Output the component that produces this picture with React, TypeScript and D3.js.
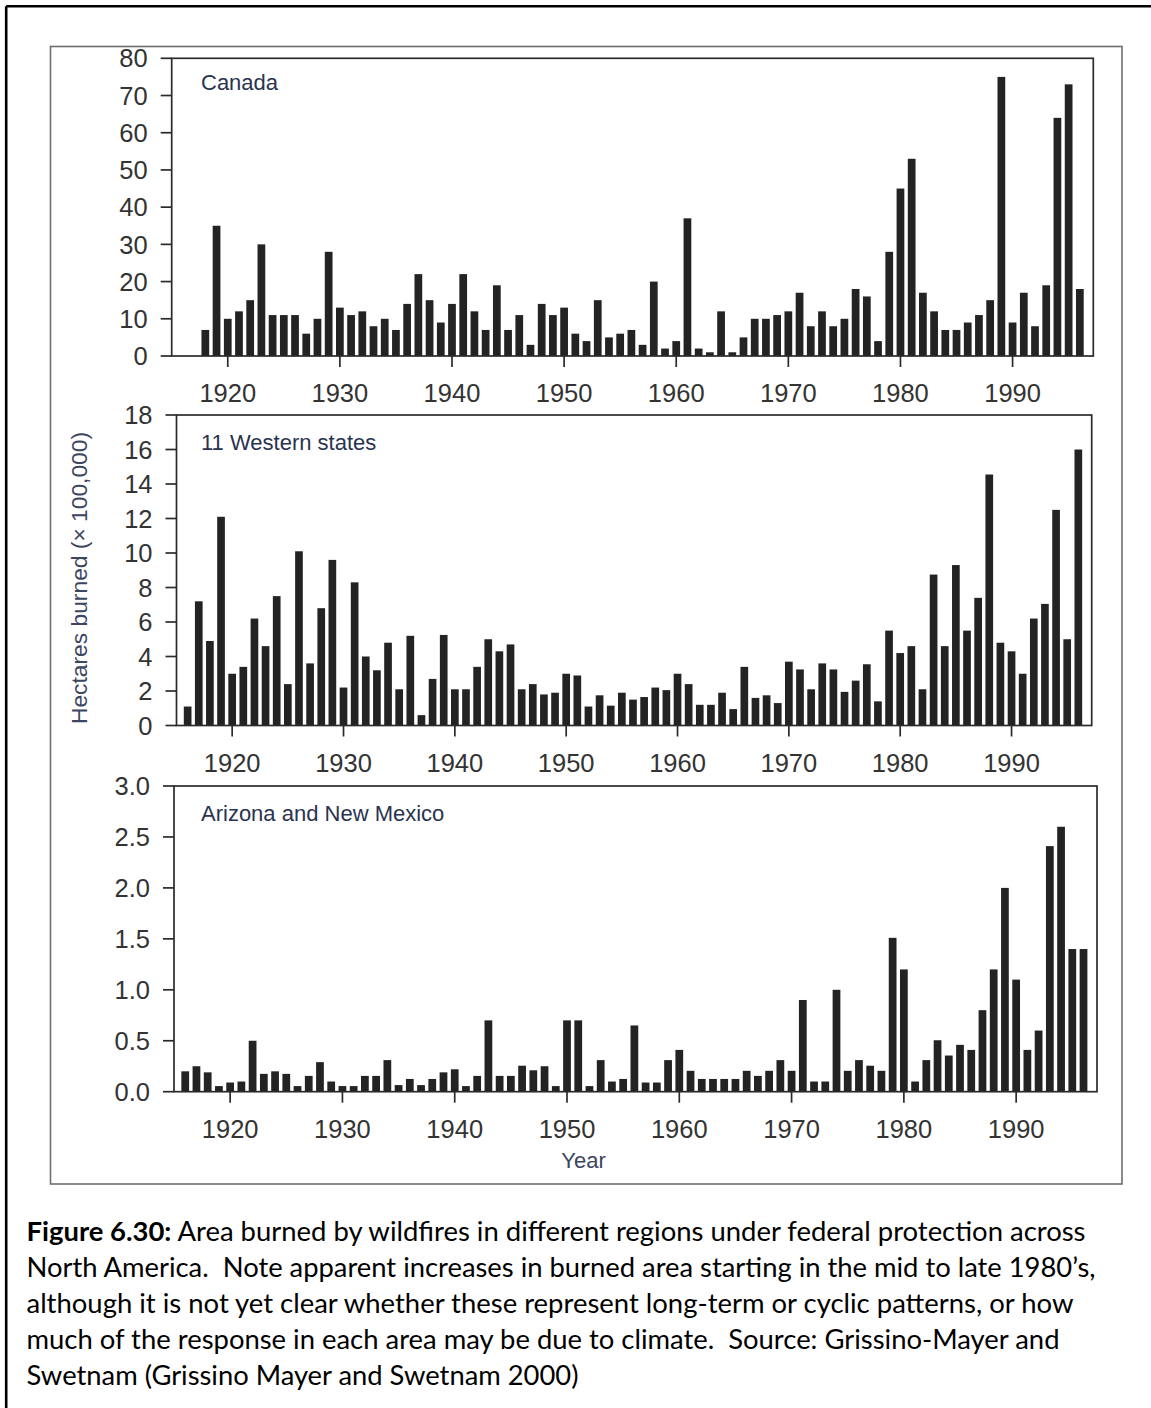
import React from "react";
import * as d3 from "d3";

// ---------- data ----------
const canadaYears = d3.range(1918, 1997);
const canadaValues = [
  7, 35,
  10, 12, 15, 30, 11, 11, 11, 6, 10, 28,
  13, 11, 12, 8, 10, 7, 14, 22, 15, 9,
  14, 22, 12, 7, 19, 7, 11, 3, 14, 11,
  13, 6, 4, 15, 5, 6, 7, 3, 20, 2,
  4, 37, 2, 1, 12, 1, 5, 10, 10, 11,
  12, 17, 8, 12, 8, 10, 18, 16, 4, 28,
  45, 53, 17, 12, 7, 7, 9, 11, 15, 75,
  9, 17, 8, 19, 64, 73, 18,
];

const westernYears = d3.range(1916, 1997);
const westernValues = [
  1.1, 7.2, 4.9, 12.1,
  3.0, 3.4, 6.2, 4.6, 7.5, 2.4, 10.1, 3.6, 6.8, 9.6,
  2.2, 8.3, 4.0, 3.2, 4.8, 2.1, 5.2, 0.6, 2.7, 5.25,
  2.1, 2.1, 3.4, 5.0, 4.3, 4.7, 2.1, 2.4, 1.8, 1.9,
  3.0, 2.9, 1.1, 1.75, 1.15, 1.9, 1.5, 1.65, 2.2, 2.05,
  3.0, 2.4, 1.2, 1.2, 1.9, 0.95, 3.4, 1.6, 1.75, 1.3,
  3.7, 3.25, 2.1, 3.6, 3.25, 1.95, 2.6, 3.55, 1.4, 5.5,
  4.2, 4.6, 2.1, 8.75, 4.6, 9.3, 5.5, 7.4, 14.55, 4.8,
  4.3, 3.0, 6.2, 7.05, 12.5, 5.0, 16.0,
];

const azYears = d3.range(1916, 1997);
const azValues = [
  0.2, 0.25, 0.19, 0.055,
  0.09, 0.1, 0.5, 0.175, 0.2, 0.175, 0.055, 0.155, 0.29, 0.1,
  0.055, 0.055, 0.155, 0.155, 0.31, 0.065, 0.125, 0.065, 0.125, 0.19,
  0.22, 0.055, 0.155, 0.7, 0.155, 0.155, 0.255, 0.21, 0.25, 0.055,
  0.7, 0.7, 0.055, 0.31, 0.1, 0.125, 0.65, 0.09, 0.09, 0.31,
  0.41, 0.205, 0.125, 0.125, 0.125, 0.125, 0.205, 0.155, 0.205, 0.31,
  0.205, 0.9, 0.1, 0.1, 1.0, 0.205, 0.31, 0.255, 0.205, 1.51,
  1.2, 0.1, 0.31, 0.505, 0.355, 0.46, 0.41, 0.8, 1.2, 2.0,
  1.1, 0.41, 0.6, 2.41, 2.6, 1.4, 1.4,
];

const xTickYears = [1920, 1930, 1940, 1950, 1960, 1970, 1980, 1990];
const panelLabels = ["Canada", "11 Western states", "Arizona and New Mexico"];
const yAxisTitle = "Hectares burned (\u00d7 100,000)";
const xAxisTitle = "Year";

const captionBold = "Figure 6.30:";
const captionLines = [
  " Area burned by wildfires in different regions under federal protection across",
  "North America.  Note apparent increases in burned area starting in the mid to late 1980\u2019s,",
  "although it is not yet clear whether these represent long-term or cyclic patterns, or how",
  "much of the response in each area may be due to climate.  Source: Grissino-Mayer and",
  "Swetnam (Grissino Mayer and Swetnam 2000)",
];

// ---------- drawing ----------
const FONT = "'Liberation Sans', Arial, Helvetica, sans-serif";
const TICK_COLOR = "#333";
const LABEL_COLOR = "#2a3350";
const BAR_COLOR = "#232323";

type PanelProps = {
  years: number[];
  values: number[];
  yMax: number;
  yStep: number;
  fmt: (v: number) => string;
  left: number;
  right: number;
  top: number;
  bottom: number;
  label: string;
  labelBaseline: number;
};

function Panel(p: PanelProps) {
  const x = d3.scaleLinear().domain([1915, 1997.2]).range([p.left, p.right]);
  const y = d3.scaleLinear().domain([0, p.yMax]).range([p.bottom, p.top]);
  const yTicks = d3.range(0, p.yMax + p.yStep / 2, p.yStep);
  const bw = x(1915.69) - x(1915);
  return (
    <g>
      {p.years.map((yr, i) => (
        <rect
          key={yr}
          x={x(yr) - bw / 2}
          y={y(p.values[i])}
          width={bw}
          height={y(0) - y(p.values[i])}
          fill={BAR_COLOR}
        />
      ))}
      {/* frame */}
      <rect
        x={p.left}
        y={p.top}
        width={p.right - p.left}
        height={p.bottom - p.top}
        fill="none"
        stroke="#2b2b2b"
        strokeWidth={1.7}
      />
      {/* y ticks */}
      {yTicks.map((t) => (
        <g key={t}>
          <line x1={p.left - 11} x2={p.left} y1={y(t)} y2={y(t)} stroke="#2b2b2b" strokeWidth={1.7} />
          <text
            x={p.left - 24}
            y={y(t)}
            dy="0.36em"
            textAnchor="end"
            fontFamily={FONT}
            fontSize={25.5}
            fill={TICK_COLOR}
          >
            {p.fmt(t)}
          </text>
        </g>
      ))}
      {/* x ticks */}
      {xTickYears.map((t) => (
        <g key={t}>
          <line x1={x(t)} x2={x(t)} y1={p.bottom} y2={p.bottom + 11} stroke="#2b2b2b" strokeWidth={1.7} />
          <text
            x={x(t)}
            y={p.bottom + 46}
            textAnchor="middle"
            fontFamily={FONT}
            fontSize={25.5}
            fill={TICK_COLOR}
          >
            {t}
          </text>
        </g>
      ))}
      <text x={201} y={p.labelBaseline} fontFamily={FONT} fontSize={22} fill={LABEL_COLOR}>
        {p.label}
      </text>
    </g>
  );
}

export default function App() {
  const W = 1151;
  const H = 1408;
  const intFmt = d3.format("d");
  const decFmt = d3.format(".1f");
  const captionWidths = [1059, 1069, 1047, 1033, 552];
  return (
    <div style={{ position: "absolute", left: 0, top: 0, width: W, height: H }}>
      <svg width={W} height={H} viewBox={`0 0 ${W} ${H}`} style={{ display: "block", background: "#fff" }}>
        <rect x={0} y={0} width={W} height={H} fill="#fff" />
        {/* outer page border (top + left) */}
        <line x1={6.2} x2={W} y1={6.2} y2={6.2} stroke="#000" strokeWidth={2.6} />
        <line x1={6.2} x2={6.2} y1={6.2} y2={H} stroke="#000" strokeWidth={2.6} />
        {/* figure box */}
        <rect x={50.5} y={46.5} width={1071.5} height={1137.5} fill="none" stroke="#6e6e6e" strokeWidth={1.6} />

        <Panel
          years={canadaYears}
          values={canadaValues}
          yMax={80}
          yStep={10}
          fmt={intFmt}
          left={171.7}
          right={1093.3}
          top={58.3}
          bottom={356}
          label={panelLabels[0]}
          labelBaseline={89.5}
        />
        <Panel
          years={westernYears}
          values={westernValues}
          yMax={18}
          yStep={2}
          fmt={intFmt}
          left={176.5}
          right={1091.7}
          top={415}
          bottom={725.5}
          label={panelLabels[1]}
          labelBaseline={450}
        />
        <Panel
          years={azYears}
          values={azValues}
          yMax={3}
          yStep={0.5}
          fmt={decFmt}
          left={174}
          right={1097}
          top={786}
          bottom={1091.7}
          label={panelLabels[2]}
          labelBaseline={820.5}
        />

        {/* axis titles */}
        <text
          transform="translate(87,578) rotate(-90)"
          textAnchor="middle"
          fontFamily={FONT}
          fontSize={22.8}
          fill="#3c4660"
        >
          {yAxisTitle}
        </text>
        <text x={583.5} y={1168} textAnchor="middle" fontFamily={FONT} fontSize={22} fill="#3c4660">
          {xAxisTitle}
        </text>

        {/* caption */}
        <g fontFamily="Lato, 'Open Sans', sans-serif" fontSize={26} fill="#000" style={{ whiteSpace: "pre" }}>
          {captionLines.map((line, i) => (
            <text
              key={i}
              x={26.5}
              y={1240.7 + i * 36}
              textLength={captionWidths[i]}
              lengthAdjust="spacingAndGlyphs"
              style={{ whiteSpace: "pre" }}
            >
              {i === 0 ? <tspan fontWeight="bold">{captionBold}</tspan> : null}
              {line}
            </text>
          ))}
        </g>
      </svg>
    </div>
  );
}
